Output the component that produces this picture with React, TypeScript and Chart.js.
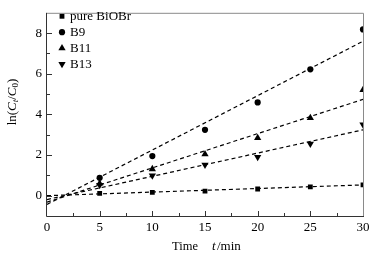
import React, { useEffect, useRef } from "react";
import { Chart, registerables } from "chart.js";

Chart.register(...registerables);

const times = [5, 10, 15, 20, 25, 30];
const pureBiOBr = [0.11, 0.16, 0.22, 0.33, 0.43, 0.53];
const b9 = [0.88, 1.95, 3.24, 4.59, 6.22, 8.18];
const b11 = [0.6, 1.31, 2.04, 2.84, 3.83, 5.2];
const b13 = [0.52, 0.99, 1.52, 1.9, 2.55, 3.5];

const fitX = [0, 30];
const fitPure = [0.0, 0.53];
const fitB9 = [-0.43, 7.6];
const fitB11 = [-0.32, 4.74];
const fitB13 = [-0.19, 3.24];

const seriesNames = ["pure BiOBr", "B9", "B11", "B13"];

const SERIF = "'Liberation Serif', 'Times New Roman', serif";

function pts(xs: number[], ys: number[]) {
  return xs.map((x, i) => ({ x, y: ys[i] }));
}

const markerStyles: any[] = [
  { pointStyle: "rect", radius: 3.4, rotation: 0 },
  { pointStyle: "circle", radius: 3.1, rotation: 0 },
  { pointStyle: "triangle", radius: 4.2, rotation: 0 },
  { pointStyle: "triangle", radius: 4.2, rotation: 180 },
];

function drawMarker(ctx: CanvasRenderingContext2D, m: any, x: number, y: number) {
  ctx.save();
  ctx.fillStyle = "#000";
  const r = m.radius;
  ctx.beginPath();
  if (m.pointStyle === "rect") {
    const s = Math.SQRT1_2 * r;
    ctx.rect(x - s, y - s, 2 * s, 2 * s);
  } else if (m.pointStyle === "circle") {
    ctx.arc(x, y, r, 0, Math.PI * 2);
  } else {
    const rot = (m.rotation * Math.PI) / 180;
    for (let k = 0; k < 3; k++) {
      const a = rot - Math.PI / 2 + (k * 2 * Math.PI) / 3;
      const px = x + Math.cos(a) * r;
      const py = y + Math.sin(a) * r;
      if (k === 0) ctx.moveTo(px, py);
      else ctx.lineTo(px, py);
    }
    ctx.closePath();
  }
  ctx.fill();
  ctx.restore();
}

const decorPlugin = {
  id: "decor",
  afterDraw(chart: any) {
    const ctx = chart.ctx as CanvasRenderingContext2D;
    const { left, right, top, bottom } = chart.chartArea;
    const xs = chart.scales.x;
    const ys = chart.scales.y;
    ctx.save();
    ctx.strokeStyle = "#8a8a8a";
    ctx.lineWidth = 1;
    ctx.beginPath();
    ctx.moveTo(left, top + 0.5);
    ctx.lineTo(right + 0.5, top + 0.5);
    ctx.lineTo(right + 0.5, bottom);
    ctx.stroke();
    ctx.strokeStyle = "#333";
    ctx.beginPath();
    ctx.moveTo(left - 0.5, top);
    ctx.lineTo(left - 0.5, bottom + 0.5);
    ctx.lineTo(right + 1, bottom + 0.5);
    ctx.stroke();
    ctx.beginPath();
    for (let v = 2.5; v < 30; v += 2.5) {
      const px = Math.round(xs.getPixelForValue(v)) + 0.5;
      const len = v % 5 === 0 ? 5 : 3;
      ctx.moveTo(px, bottom);
      ctx.lineTo(px, bottom - len);
    }
    for (let v = 0; v <= 8; v += 1) {
      const py = Math.round(ys.getPixelForValue(v)) + 0.5;
      const len = v % 2 === 0 ? 5 : 3;
      ctx.moveTo(left, py);
      ctx.lineTo(left + len, py);
    }
    ctx.stroke();

    ctx.fillStyle = "#000";
    ctx.font = `13px ${SERIF}`;
    ctx.textBaseline = "middle";
    ctx.textAlign = "left";
    seriesNames.forEach((name, i) => {
      const cy = 16.3 + i * 15.9;
      drawMarker(ctx, markerStyles[i], 62, cy);
      ctx.fillStyle = "#000";
      ctx.fillText(name, 70, cy + 0.5);
    });

    ctx.font = `12.5px ${SERIF}`;
    ctx.fillText("Time", 172, 247);
    ctx.font = `italic 13px ${SERIF}`;
    ctx.fillText("t", 212, 247);
    ctx.font = `13px ${SERIF}`;
    ctx.fillText("/min", 217, 247);

    ctx.translate(13, 102);
    ctx.rotate(-Math.PI / 2);
    const parts: { t: string; f: string; dy: number }[] = [
      { t: "ln(", f: `13px ${SERIF}`, dy: 0 },
      { t: "C", f: `italic 13px ${SERIF}`, dy: 0 },
      { t: "t", f: `italic 9px ${SERIF}`, dy: 3 },
      { t: "/", f: `13px ${SERIF}`, dy: 0 },
      { t: "C", f: `italic 13px ${SERIF}`, dy: 0 },
      { t: "0", f: `9px ${SERIF}`, dy: 3 },
      { t: ")", f: `13px ${SERIF}`, dy: 0 },
    ];
    let total = 0;
    parts.forEach((p) => {
      ctx.font = p.f;
      total += ctx.measureText(p.t).width;
    });
    let x = -total / 2;
    parts.forEach((p) => {
      ctx.font = p.f;
      ctx.fillText(p.t, x, p.dy);
      x += ctx.measureText(p.t).width;
    });
    ctx.restore();
  },
};

export default function App() {
  const ref = useRef<HTMLCanvasElement | null>(null);
  useEffect(() => {
    document.body.style.margin = "0";
    const canvas = ref.current!;
    const pointSets = [pureBiOBr, b9, b11, b13];
    const fitSets = [fitPure, fitB9, fitB11, fitB13];
    const datasets: any[] = [];
    fitSets.forEach((f, i) => {
      datasets.push({
        label: seriesNames[i] + " fit",
        data: pts(fitX, f),
        showLine: true,
        borderColor: "#000",
        borderWidth: 1.2,
        borderDash: [4, 3],
        pointRadius: 0,
        fill: false,
        clip: 0,
      });
    });
    pointSets.forEach((s, i) => {
      const m = markerStyles[i];
      datasets.push({
        label: seriesNames[i],
        data: pts(times, s),
        showLine: false,
        pointStyle: m.pointStyle,
        pointRadius: m.radius,
        pointRotation: m.rotation,
        backgroundColor: "#000",
        borderColor: "#000",
        pointBorderWidth: 0,
        clip: 0,
      });
    });
    const chart = new Chart(canvas, {
      type: "scatter",
      data: { datasets },
      options: {
        animation: false,
        responsive: false,
        layout: { padding: { left: 0, top: 8, right: 21, bottom: 0 } },
        plugins: { legend: { display: false }, tooltip: { enabled: false } },
        scales: {
          x: {
            type: "linear",
            min: 0,
            max: 30,
            grid: { display: false, drawTicks: false },
            border: { display: false },
            ticks: {
              stepSize: 5,
              padding: 4,
              color: "#000",
              font: { family: SERIF, size: 13 },
              maxRotation: 0,
            },
            afterFit: (s: any) => {
              s.height = 43;
            },
          },
          y: {
            type: "linear",
            min: -1,
            max: 9,
            grid: { display: false, drawTicks: false },
            border: { display: false },
            ticks: {
              stepSize: 1,
              padding: 5,
              color: "#000",
              font: { family: SERIF, size: 13 },
              callback: (v: any) => (v >= 0 && v % 2 === 0 ? String(v) : ""),
            },
            afterFit: (s: any) => {
              s.width = 47;
            },
          },
        },
      },
      plugins: [decorPlugin],
    });
    return () => chart.destroy();
  }, []);
  return (
    <div style={{ width: 384, height: 259 }}>
      <canvas ref={ref} width={384} height={259} style={{ display: "block" }} />
    </div>
  );
}
